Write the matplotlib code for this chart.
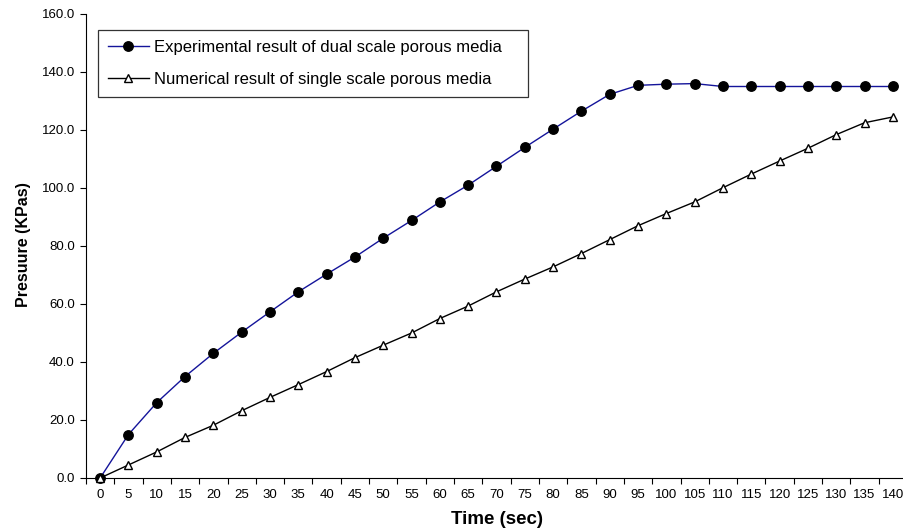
import matplotlib
matplotlib.use("Agg")
import matplotlib.pyplot as plt
import numpy as np

plt.rcParams['font.family'] = ['Liberation Sans', 'DejaVu Sans']

time_labels = [str(t) for t in range(0, 145, 5)]
experimental = [0.0, 15.0, 26.0, 35.0, 43.0, 50.3, 57.3, 64.2, 70.3, 76.2,
                82.7, 88.8, 95.2, 101.0, 107.5, 114.0, 120.3, 126.5, 132.3,
                135.4, 135.8, 136.0, 135.0, 135.0, 135.0, 135.0, 135.0, 135.0, 135.0]
numerical = [0.0, 4.5, 9.0, 14.0, 18.2, 23.2, 27.8, 32.2, 36.7, 41.5,
             45.8, 50.0, 55.0, 59.3, 64.2, 68.6, 72.8, 77.4, 82.2, 87.0,
             91.2, 95.2, 100.1, 104.8, 109.3, 113.7, 118.4, 122.5, 124.5]
y_ticks = [0, 20, 40, 60, 80, 100, 120, 140, 160]

W, H = 904, 531
fig = plt.figure(figsize=(W / 100, H / 100), dpi=100)
ax_l, ax_r, ax_t, ax_b = 86, 907, 14, 478
ax = fig.add_axes([ax_l / W, 1 - ax_b / H, (ax_r - ax_l) / W, (ax_b - ax_t) / H])

x = np.arange(len(time_labels))
ax.plot(x, experimental, color='#14149a', lw=1.0, marker='o', ms=6.8,
        mfc='black', mec='black', label='Experimental result of dual scale porous media',
        clip_on=False, zorder=3)
ax.plot(x, numerical, color='black', lw=1.0, marker='^', ms=5.5,
        mfc='white', mec='black', mew=1.0, label='Numerical result of single scale porous media',
        clip_on=False, zorder=3)

ax.set_xlim(-0.5, len(time_labels) - 0.5)
ax.set_ylim(0, 160)
ax.set_yticks(y_ticks)
ax.set_yticklabels([f"{v:.1f}" for v in y_ticks], fontsize=9.5)
ax.set_xticks(np.arange(len(time_labels) + 1) - 0.5)
ax.set_xticklabels([])
ax.set_xticks(x, minor=True)
ax.set_xticklabels(time_labels, minor=True, fontsize=9.5)
ax.tick_params(axis='x', which='major', length=4, direction='out', width=0.8)
ax.tick_params(axis='x', which='minor', length=0, pad=8)
ax.tick_params(axis='y', length=4, direction='out', width=0.8, pad=4)

ax.spines['top'].set_visible(False)
ax.spines['right'].set_visible(False)

fig.text(497 / W, 1 - 520 / H, 'Time (sec)', fontsize=13.5, fontweight='bold',
         ha='center', va='center')
fig.text(23.5 / W, 1 - 245 / H, 'Presuure (KPas)', fontsize=11.5, fontweight='bold',
         ha='center', va='center', rotation=90)

# legend box: x 98..528, top y 30
bx0 = (98 - ax_l) / (ax_r - ax_l)
bw = (528 - 98) / (ax_r - ax_l)
by_top = (ax_b - 30) / (ax_b - ax_t)
leg = ax.legend(loc='upper left', bbox_to_anchor=(bx0, by_top - 0.3, bw, 0.3),
                mode='expand', borderaxespad=0, fontsize=12,
                frameon=True, fancybox=False, edgecolor='black', handlelength=2.45,
                borderpad=0.6, labelspacing=1.0, handletextpad=0.3)
leg.get_frame().set_linewidth(0.9)

fig.savefig('out.png', dpi=100)
